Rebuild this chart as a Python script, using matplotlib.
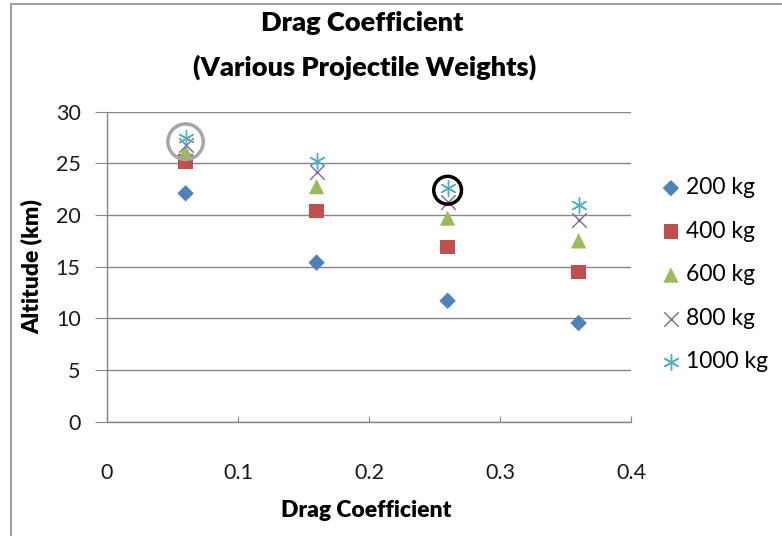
import matplotlib
matplotlib.use("Agg")
import matplotlib.pyplot as plt
from matplotlib.lines import Line2D

plt.rcParams['font.family'] = ['Lato', 'DejaVu Sans']

drag = [0.06, 0.16, 0.26, 0.36]
series_labels = ["200 kg", "400 kg", "600 kg", "800 kg", "1000 kg"]
alt_200 = [22.1, 15.4, 11.7, 9.55]
alt_400 = [25.2, 20.4, 16.9, 14.5]
alt_600 = [26.1, 22.75, 19.7, 17.5]
alt_800 = [26.8, 24.2, 21.3, 19.5]
alt_1000 = [27.5, 25.2, 22.6, 21.0]
highlight_x = [0.06, 0.26]
highlight_y = [27.1, 22.4]

x_ticks = [0, 0.1, 0.2, 0.3, 0.4]
x_ticklabels = ["0", "0.1", "0.2", "0.3", "0.4"]
y_ticks = [0, 5, 10, 15, 20, 25, 30]

W, H = 782, 536
fig = plt.figure(figsize=(W / 100, H / 100), dpi=100)
ax = fig.add_axes([107 / W, 1 - 421.7 / H, 524 / W, 310 / H])

colors = ["#4F81BD", "#C0504D", "#9BBB59", "#8064A2", "#4BACC6"]
styles = [
    dict(marker="D", s=70, edgecolors="none"),
    dict(marker="s", s=110, edgecolors="none"),
    dict(marker="^", s=120, edgecolors="none"),
    dict(marker="x", s=110, linewidths=1.0),
    dict(marker=(6, 2, 0), s=130, linewidths=1.0),
]
all_series = [alt_200, alt_400, alt_600, alt_800, alt_1000]
for vals, lab, c, st in zip(all_series, series_labels, colors, styles):
    ax.scatter(drag, vals, color=c, label=lab, zorder=3, **st)

# highlighted points
ax.scatter(highlight_x[:1], highlight_y[:1], s=650, facecolors="none",
           edgecolors="#A6A6A6", linewidths=2.5, zorder=4)
ax.scatter(highlight_x[1:], highlight_y[1:], s=400, facecolors="none",
           edgecolors="#000000", linewidths=2.5, zorder=4)

ax.set_xlim(0, 0.4)
ax.set_ylim(0, 30)
ax.set_xticks(x_ticks)
ax.set_xticklabels(x_ticklabels)
ax.set_yticks(y_ticks)
ax.grid(axis="y", color="#868686", linewidth=1.0)
ax.set_axisbelow(True)
for sp in ["top", "right"]:
    ax.spines[sp].set_visible(False)
for sp in ["left", "bottom"]:
    ax.spines[sp].set_color("#868686")
    ax.spines[sp].set_linewidth(1.0)
ax.tick_params(axis="x", direction="in", length=4, color="#868686",
               labelsize=15.5, pad=30, labelcolor="#1a1a1a")
ax.tick_params(axis="y", direction="out", length=9, color="#868686",
               labelsize=15.5, pad=10, labelcolor="#1a1a1a")

ax.set_xlabel("Drag Coefficient", fontsize=16.5, fontweight="heavy")
ax.xaxis.set_label_coords(0.494, -0.253)
ax.set_ylabel("Altitude (km)", fontsize=16.5, fontweight="heavy")
ax.yaxis.set_label_coords(-0.124, 0.5)

fig.text(362 / W, 1 - 23 / H, "Drag Coefficient", ha="center", va="center",
         fontsize=19.5, fontweight="heavy")
fig.text(365 / W, 1 - 67 / H, "(Various Projectile Weights)", ha="center",
         va="center", fontsize=19.5, fontweight="heavy")

leg = ax.legend(loc="upper left", bbox_to_anchor=(648 / W, 1 - 168 / H),
                bbox_transform=fig.transFigure, frameon=False, fontsize=16.5,
                labelspacing=0.98, handletextpad=0.05, handlelength=1.2,
                scatterpoints=1, borderaxespad=0)

# outer chart border
fig.add_artist(Line2D([11 / W, 1], [1 - 4 / H, 1 - 4 / H], color="#A0A0A0",
                      linewidth=1.5, transform=fig.transFigure))
fig.add_artist(Line2D([11 / W, 11 / W], [0, 1 - 4 / H], color="#A0A0A0",
                      linewidth=1.5, transform=fig.transFigure))

fig.savefig("out.png", dpi=100)
